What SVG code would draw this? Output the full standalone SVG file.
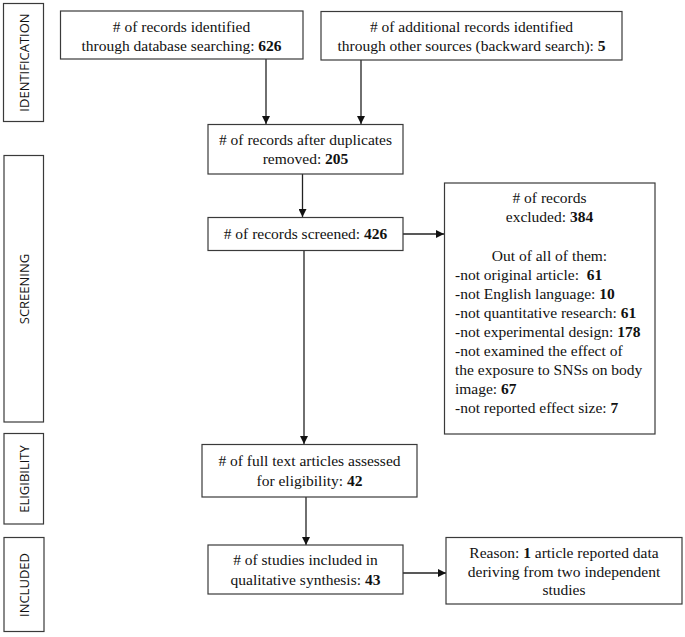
<svg xmlns="http://www.w3.org/2000/svg" width="685" height="637" viewBox="0 0 685 637">
<style>
.box{fill:#fff;stroke:#3a3a3a;stroke-width:1.2}
.t{font-family:"Liberation Serif","Times New Roman",serif;font-size:15.5px;fill:#111}
.c{text-anchor:middle}
.b{font-weight:bold}
.side{font-family:"Open Sans","DejaVu Sans",sans-serif;font-size:13px;fill:#111;text-anchor:middle}
.edge{stroke:#222;stroke-width:1.3;fill:none;marker-end:url(#ah)}
</style>
<defs>
<marker id="ah" viewBox="0 0 10 10" refX="10" refY="5" markerWidth="8" markerHeight="8" markerUnits="userSpaceOnUse" orient="auto">
<path d="M0,0 L10,5 L0,10 z" fill="#111"/>
</marker>
</defs>
<rect width="685" height="637" fill="#fff"/>

<g id="stage-identification">
<rect class="box" x="3.5" y="3.5" width="40" height="118"/>
<text class="side" transform="translate(28.5,62.5) rotate(-90)">IDENTIFICATION</text>
</g>
<g id="stage-screening">
<rect class="box" x="4" y="155.5" width="39.5" height="266.5"/>
<text class="side" transform="translate(28.5,289) rotate(-90)">SCREENING</text>
</g>
<g id="stage-eligibility">
<rect class="box" x="4" y="433.5" width="39.5" height="90.5"/>
<text class="side" transform="translate(28.5,479) rotate(-90)">ELIGIBILITY</text>
</g>
<g id="stage-included">
<rect class="box" x="4" y="537.5" width="40" height="94"/>
<text class="side" transform="translate(28.5,585) rotate(-90)">INCLUDED</text>
</g>

<g id="connectors">
<line class="edge" x1="266" y1="59" x2="266" y2="124"/>
<line class="edge" x1="361" y1="60" x2="361" y2="124"/>
<line class="edge" x1="302.5" y1="174" x2="302.5" y2="217"/>
<line class="edge" x1="304" y1="250" x2="304" y2="444"/>
<line class="edge" x1="403" y1="234" x2="444" y2="234"/>
<line class="edge" x1="306" y1="497" x2="306" y2="545"/>
<line class="edge" x1="403" y1="573" x2="446" y2="573"/>
</g>

<g id="n-database">
<rect class="box" x="60.5" y="11" width="242.5" height="48"/>
<text class="t c" x="181.5" y="32">&#35; of records identified</text>
<text class="t c" x="181.5" y="51">through database searching: <tspan class="b">626</tspan></text>
</g>
<g id="n-other">
<rect class="box" x="321" y="11.5" width="301" height="48.5"/>
<text class="t c" x="471.5" y="32"># of additional records identified</text>
<text class="t c" x="471.5" y="51">through other sources (backward search): <tspan class="b">5</tspan></text>
</g>
<g id="n-duplicates">
<rect class="box" x="208" y="124.5" width="195" height="49.5"/>
<text class="t c" x="305.5" y="145"># of records after duplicates</text>
<text class="t c" x="305.5" y="164">removed: <tspan class="b">205</tspan></text>
</g>
<g id="n-screened">
<rect class="box" x="208" y="217.5" width="195" height="33"/>
<text class="t c" x="305.5" y="238.5"># of records screened: <tspan class="b">426</tspan></text>
</g>
<g id="n-excluded">
<rect class="box" x="444.5" y="183" width="210.5" height="251"/>
<text class="t c" x="549.5" y="203"># of records</text>
<text class="t c" x="549.5" y="222">excluded: <tspan class="b">384</tspan></text>
<text class="t c" x="549.5" y="261">Out of all of them:</text>
<text class="t" x="455" y="280">-not original article:&#160; <tspan class="b">61</tspan></text>
<text class="t" x="455" y="299">-not English language: <tspan class="b">10</tspan></text>
<text class="t" x="455" y="318">-not quantitative research: <tspan class="b">61</tspan></text>
<text class="t" x="455" y="337">-not experimental design: <tspan class="b">178</tspan></text>
<text class="t" x="455" y="356">-not examined the effect of</text>
<text class="t" x="455" y="375">the exposure to SNSs on body</text>
<text class="t" x="455" y="394">image: <tspan class="b">67</tspan></text>
<text class="t" x="455" y="413">-not reported effect size: <tspan class="b">7</tspan></text>
</g>
<g id="n-eligibility">
<rect class="box" x="202" y="444.5" width="215" height="52.5"/>
<text class="t c" x="309.5" y="466"># of full text articles assessed</text>
<text class="t c" x="309.5" y="486">for eligibility: <tspan class="b">42</tspan></text>
</g>
<g id="n-included">
<rect class="box" x="208" y="545" width="195" height="49"/>
<text class="t c" x="305.5" y="565"># of studies included in</text>
<text class="t c" x="305.5" y="585">qualitative synthesis: <tspan class="b">43</tspan></text>
</g>
<g id="n-reason">
<rect class="box" x="446" y="537.5" width="236" height="66.5"/>
<text class="t c" x="564" y="558">Reason: <tspan class="b">1</tspan> article reported data</text>
<text class="t c" x="564" y="577">deriving from two independent</text>
<text class="t c" x="564" y="595">studies</text>
</g>
</svg>
